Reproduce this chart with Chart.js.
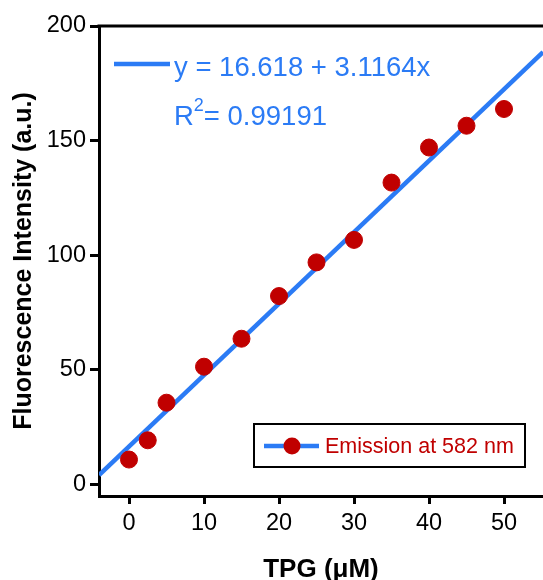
<!DOCTYPE html>
<html>
<head>
<meta charset="utf-8">
<script src="https://cdn.jsdelivr.net/npm/chart.js@4"></script>
<style>
  html, body { margin: 0; padding: 0; background: #fff; }
  #wrap { width: 543px; height: 580px; }
</style>
</head>
<body>
<div id="wrap"><canvas id="myChart" width="543" height="580"></canvas></div>
<script>
// TPG concentration (uM) and emission intensity at 582 nm
const tpg = [0, 2.5, 5, 10, 15, 20, 25, 30, 35, 40, 45, 50]
const intensity = [10.9, 19.3, 35.7, 51.4, 63.6, 82.2, 96.9, 106.7, 131.7, 147, 156.5, 163.8]

// linear fit shown on the chart
const fitIntercept = 16.618
const fitSlope = 3.1164
const fitR2 = '0.99191'
const fitX = [-4, 55.2]

const xTicks = [0, 10, 20, 30, 40, 50]
const yTicks = [0, 50, 100, 150, 200]

const blue = '#2b7bf5'
const red = '#c00000'
const fontFamily = "'Liberation Sans', Arial, sans-serif"

// frame, fit label and legend box drawn on the canvas
const decorations = {
    id: 'decorations',
    afterDraw(chart) {
        const ctx = chart.ctx
        const area = chart.chartArea
        ctx.save()
        // top border of the frame
        ctx.strokeStyle = '#000'
        ctx.lineWidth = 3
        ctx.beginPath()
        ctx.moveTo(area.left - 1.5, area.top)
        ctx.lineTo(area.right, area.top)
        ctx.stroke()

        // fit equation
        ctx.strokeStyle = blue
        ctx.lineWidth = 4.5
        ctx.beginPath()
        ctx.moveTo(area.left + 15, area.top + 38)
        ctx.lineTo(area.left + 71, area.top + 38)
        ctx.stroke()
        ctx.fillStyle = blue
        ctx.font = '27.5px ' + fontFamily
        ctx.textBaseline = 'middle'
        ctx.fillText('y = ' + fitIntercept + ' + ' + fitSlope + 'x', area.left + 75, area.top + 42)
        let x = area.left + 75
        const y2 = area.top + 91
        ctx.fillText('R', x, y2)
        x += ctx.measureText('R').width
        ctx.font = '18px ' + fontFamily
        ctx.fillText('2', x, y2 - 11)
        x += ctx.measureText('2').width
        ctx.font = '27.5px ' + fontFamily
        ctx.fillText('= ' + fitR2, x, y2)

        // legend
        const lx = 254, ly = 424, lw = 271, lh = 43
        ctx.strokeStyle = '#000'
        ctx.lineWidth = 2
        ctx.strokeRect(lx, ly, lw, lh)
        ctx.strokeStyle = blue
        ctx.lineWidth = 4.5
        ctx.beginPath()
        ctx.moveTo(lx + 10, ly + 22)
        ctx.lineTo(lx + 65, ly + 22)
        ctx.stroke()
        ctx.fillStyle = red
        ctx.beginPath()
        ctx.arc(lx + 38, ly + 22, 8.5, 0, Math.PI * 2)
        ctx.fill()
        ctx.font = '21.5px ' + fontFamily
        ctx.fillText('Emission at 582 nm', lx + 71, ly + 23)
        ctx.restore()
    }
}

const data = {
    datasets: [
        {
            label: 'Emission at 582 nm',
            data: tpg.map((t, i) => ({ x: t, y: intensity[i] })),
            backgroundColor: red,
            borderColor: red,
            pointRadius: 8.5,
            showLine: false,
            order: 0
        },
        {
            label: 'Fit',
            data: fitX.map(t => ({ x: t, y: fitIntercept + fitSlope * t })),
            borderColor: blue,
            borderWidth: 4.5,
            pointRadius: 0,
            showLine: true,
            order: 1
        }
    ]
}

const config = {
    type: 'scatter',
    data: data,
    plugins: [decorations],
    options: {
        responsive: false,
        animation: false,
        layout: {
            autoPadding: false,
            padding: { top: 26, right: 0, bottom: 0, left: 0 }
        },
        plugins: {
            legend: { display: false },
            tooltip: { enabled: false }
        },
        scales: {
            x: {
                min: -4,
                max: 55.2,
                afterBuildTicks: scale => { scale.ticks = xTicks.map(v => ({ value: v })) },
                afterFit: scale => {
                    scale.height = 84
                    scale.paddingLeft = 0
                    scale.paddingRight = 0
                },
                grid: { drawOnChartArea: false, color: '#000', lineWidth: 3, tickLength: 8 },
                border: { color: '#000', width: 3 },
                ticks: { color: '#000', font: { family: fontFamily, size: 23.5 }, padding: 5, maxRotation: 0 },
                title: {
                    display: true,
                    text: 'TPG (μM)',
                    color: '#000',
                    font: { family: fontFamily, size: 26, weight: 'bold' },
                    padding: { top: 10, bottom: -5 }
                }
            },
            y: {
                min: -5,
                max: 200,
                afterBuildTicks: scale => { scale.ticks = yTicks.map(v => ({ value: v })) },
                afterFit: scale => { scale.width = 99 },
                grid: { drawOnChartArea: false, color: '#000', lineWidth: 3, tickLength: 9 },
                border: { color: '#000', width: 3 },
                ticks: { color: '#000', font: { family: fontFamily, size: 23.5 }, padding: 4 },
                title: {
                    display: true,
                    text: 'Fluorescence Intensity (a.u.)',
                    color: '#000',
                    font: { family: fontFamily, size: 25, weight: 'bold' },
                    padding: { top: 9, bottom: 8 }
                }
            }
        }
    }
}

new Chart(document.getElementById('myChart'), config)
</script>
</body>
</html>
